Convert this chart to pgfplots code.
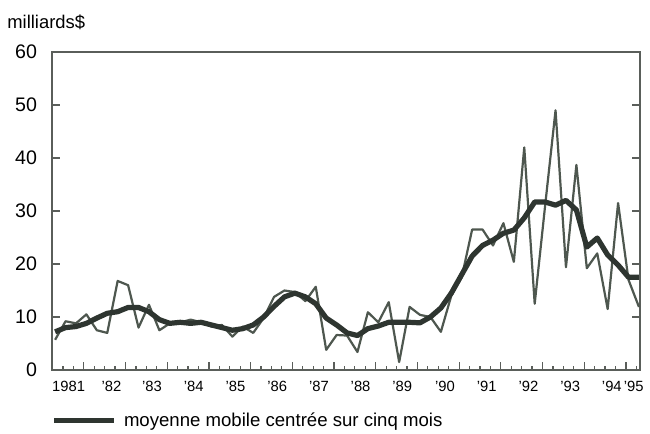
\documentclass[border=0pt]{standalone}
\usepackage{pgfplots}
\pgfplotsset{compat=1.18}
\usepackage{fontspec}
\setmainfont{Liberation Sans}
\definecolor{axisgray}{HTML}{5A5E5A}
\definecolor{thinline}{HTML}{4E574F}
\definecolor{thickline}{HTML}{2E3530}

% quarterly values, 1981Q1 = 0
\pgfplotstableread{
i  v     ma
0  5.7   7.2
1  9.2   8.0
2  8.8   8.2
3  10.5  8.8
4  7.5   9.8
5  7.0   10.7
6  16.8  11.0
7  16.0  11.8
8  8.0   11.8
9  12.3  11.0
10 7.5   9.5
11 8.8   8.8
12 9.0   9.0
13 9.5   8.8
14 9.0   9.0
15 8.2   8.5
16 8.5   8.0
17 6.3   7.5
18 8.2   7.8
19 7.0   8.5
20 9.8   10.0
21 13.8  12.0
22 15.0  13.8
23 14.7  14.5
24 13.0  13.8
25 15.7  12.5
26 3.8   9.8
27 6.6   8.5
28 6.5   7.0
29 3.4   6.5
30 10.9  7.8
31 9.0   8.3
32 12.8  9.0
33 1.5   9.0
34 11.9  9.0
35 10.4  8.9
36 10.0  10.0
37 7.2   11.7
38 14.0  14.5
39 17.5  18.0
40 26.5  21.5
41 26.5  23.5
42 23.5  24.5
43 27.7  25.8
44 20.4  26.4
45 42.0  28.7
46 12.5  31.7
47 31.0  31.7
48 49.0  31.1
49 19.4  32.0
50 38.7  30.2
51 19.2  23.2
52 22.0  24.9
53 11.5  21.7
54 31.5  19.8
55 17.0  17.5
56 11.9  17.5
}\data

\begin{document}
\begin{tikzpicture}[x=1pt,y=1pt]
\useasboundingbox (0,0) rectangle (325,217);
\begin{axis}[
  at={(26pt,32pt)}, anchor=south west,
  scale only axis, width=294pt, height=159pt,
  xmin=-0.3, xmax=56.1, ymin=0, ymax=60,
  /pgf/number format/assume math mode=true,
  axis line style={draw=axisgray, line width=0.7pt},
  tick align=inside,
  xtick pos=lower, ytick pos=both,
  ytick={0,10,...,60},
  yticklabel style={anchor=east, xshift=-4pt, font=\fontsize{9.8}{11}\selectfont},
  xtick={2.75,6.75,...,54.75},
  xticklabels={},
  minor xtick={-0.25,0.75,...,55.75},
  major tick length=4pt, minor tick length=2pt,
  every tick/.style={draw=axisgray, line width=0.6pt},
  extra x ticks={1.3,5.4,9.3,13.3,17.3,21.3,25.3,29.3,33.3,37.4,41.4,45.4,49.4,53.4,55.5},
  extra x tick labels={1981,'82,'83,'84,'85,'86,'87,'88,'89,'90,'91,'92,'93,'94,'95},
  extra x tick style={major tick length=0pt,
    xticklabel style={font=\fontsize{7.4}{8}\selectfont, yshift=-2pt}},
  legend style={at={(axis description cs:-0.001,-0.16)}, anchor=west,
    draw=none, fill=none, font=\fontsize{9.3}{11}\selectfont,
    inner sep=0pt, nodes={inner xsep=3.5pt}},
  legend cell align=left,
  legend image code/.code={\draw[#1] (0pt,0pt) -- (30pt,0pt);},
]
\addplot[thinline, line width=1.1pt, line join=round, forget plot] table[x=i, y=v] {\data};
\addplot[thickline, line width=2.6pt, line join=round] table[x=i, y=ma] {\data};
\addlegendentry{moyenne mobile centrée sur cinq mois}
\end{axis}
\node[anchor=west, inner sep=0pt, font=\fontsize{9.2}{11}\selectfont] at (3.5pt,206pt) {milliards\$};
\end{tikzpicture}
\end{document}
